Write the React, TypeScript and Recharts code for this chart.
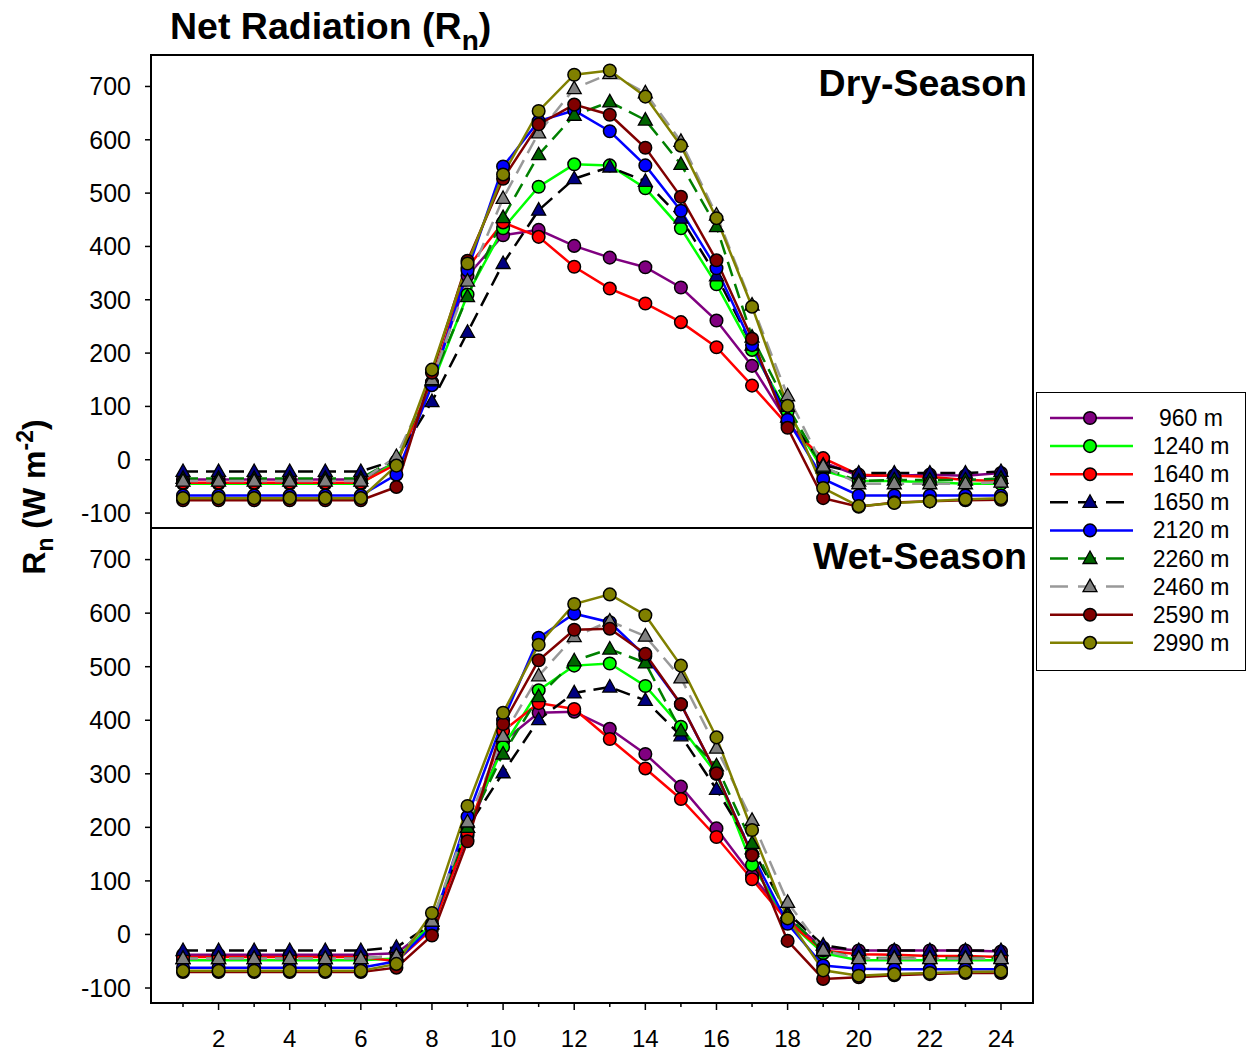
import React from "react";
import {
  LineChart,
  Line,
  XAxis,
  YAxis,
  ReferenceArea,
  Legend,
} from "recharts";

const hours = [1, 2, 3, 4, 5, 6, 7, 8, 9, 10, 11, 12, 13, 14, 15, 16, 17, 18, 19, 20, 21, 22, 23, 24];
const yTicks = [-100, 0, 100, 200, 300, 400, 500, 600, 700];
const elevations = ["960 m", "1240 m", "1640 m", "1650 m", "2120 m", "2260 m", "2460 m", "2590 m", "2990 m"];

// dry season, W m-2
const dry960 = [-37, -37, -37, -37, -37, -37, -5, 145, 345, 421, 431, 401, 379, 361, 323, 261, 176, 70, -5, -30, -30, -28, -30, -25];
const dry1240 = [-45, -45, -45, -45, -45, -45, -3, 140, 310, 434, 512, 554, 552, 509, 434, 329, 206, 90, -20, -40, -40, -42, -45, -45];
const dry1640 = [-43, -43, -43, -43, -43, -43, -8, 145, 360, 445, 418, 362, 321, 293, 258, 211, 139, 65, 3, -28, -30, -32, -38, -40];
const dry1650 = [-22, -22, -22, -22, -22, -22, 0, 109, 239, 368, 468, 527, 549, 522, 453, 345, 215, 80, -10, -25, -25, -25, -25, -22];
const dry2120 = [-67, -67, -67, -67, -67, -67, -28, 140, 355, 550, 635, 655, 616, 552, 467, 359, 215, 75, -36, -67, -67, -67, -67, -67];
const dry2260 = [-35, -35, -35, -35, -35, -35, 2, 148, 306, 454, 572, 646, 671, 637, 554, 437, 230, 100, -15, -40, -38, -38, -38, -35];
const dry2460 = [-40, -40, -40, -40, -40, -40, 6, 150, 335, 490, 613, 696, 724, 688, 597, 459, 290, 120, -12, -45, -45, -45, -45, -42];
const dry2590 = [-76, -76, -76, -76, -76, -76, -51, 163, 373, 527, 629, 666, 647, 585, 493, 374, 227, 60, -72, -88, -80, -78, -76, -75];
const dry2990 = [-72, -72, -72, -72, -72, -72, -11, 169, 368, 535, 654, 722, 730, 681, 589, 453, 287, 101, -53, -87, -81, -78, -74, -72];

// wet season, W m-2
const wet960 = [-38, -38, -38, -38, -38, -38, -35, 15, 185, 360, 414, 416, 384, 337, 276, 198, 110, 30, -25, -30, -30, -30, -30, -32];
const wet1240 = [-48, -48, -48, -48, -48, -48, -45, 20, 200, 350, 456, 502, 506, 464, 388, 300, 130, 25, -35, -48, -48, -48, -48, -48];
const wet1640 = [-42, -42, -42, -42, -42, -42, -50, 10, 190, 380, 432, 421, 365, 310, 253, 182, 103, 25, -30, -37, -38, -40, -40, -42];
const wet1650 = [-30, -30, -30, -30, -30, -30, -24, 20, 200, 302, 401, 451, 462, 437, 371, 271, 160, 40, -20, -30, -30, -30, -30, -30];
const wet2120 = [-62, -62, -62, -62, -62, -62, -50, 15, 220, 400, 554, 599, 583, 520, 430, 300, 150, 20, -58, -64, -65, -65, -65, -65];
const wet2260 = [-45, -45, -45, -45, -45, -45, -40, 25, 200, 337, 444, 511, 533, 507, 380, 315, 170, 35, -30, -44, -44, -44, -44, -44];
const wet2460 = [-45, -45, -45, -45, -45, -45, -40, 25, 210, 370, 483, 556, 585, 557, 479, 348, 213, 60, -30, -45, -45, -45, -45, -45];
const wet2590 = [-70, -70, -70, -70, -70, -70, -62, -2, 174, 393, 512, 569, 571, 524, 430, 301, 148, -12, -83, -80, -76, -74, -72, -72];
const wet2990 = [-68, -68, -68, -68, -68, -68, -55, 40, 240, 414, 541, 617, 635, 596, 502, 368, 195, 30, -67, -77, -74, -72, -70, -69];

const drySeries = [dry960, dry1240, dry1640, dry1650, dry2120, dry2260, dry2460, dry2590, dry2990];
const wetSeries = [wet960, wet1240, wet1640, wet1650, wet2120, wet2260, wet2460, wet2590, wet2990];

// look of each elevation, same order as elevations
const styles = [
  { color: "#800080", marker: "#800080", dashed: false, shape: "circle" },
  { color: "#00ff00", marker: "#00ff00", dashed: false, shape: "circle" },
  { color: "#ff0000", marker: "#ff0000", dashed: false, shape: "circle" },
  { color: "#000000", marker: "#000080", dashed: true, shape: "triangle" },
  { color: "#0000ff", marker: "#0000ff", dashed: false, shape: "circle" },
  { color: "#008000", marker: "#006400", dashed: true, shape: "triangle" },
  { color: "#999999", marker: "#808080", dashed: true, shape: "triangle" },
  { color: "#800000", marker: "#800000", dashed: false, shape: "circle" },
  { color: "#808000", marker: "#808000", dashed: false, shape: "circle" },
];

const FONT = 'Arial, "Liberation Sans", sans-serif';
const X_DOMAIN: [number, number] = [0.1, 24.9];
const Y_DOMAIN: [number, number] = [-128, 759];
const PLOT_LEFT = 151;
const PLOT_RIGHT = 1033;
const MID = 528;
const PLOT_BOTTOM = 1003;
const LEGEND_W = 210;

const buildRows = (series: number[][]) =>
  hours.map((h, i) => {
    const row: Record<string, number> = { hour: h };
    series.forEach((vals, k) => {
      row["s" + k] = vals[i];
    });
    return row;
  });

const dryData = buildRows(drySeries);
const wetData = buildRows(wetSeries);

const Marker = ({ cx, cy, shape, fill }: { cx: number; cy: number; shape: string; fill: string }) => {
  if (shape === "triangle") {
    return (
      <path
        d={`M${cx},${cy - 7.5} L${cx + 7},${cy + 5} L${cx - 7},${cy + 5} Z`}
        fill={fill}
        stroke="#000"
        strokeWidth={1.3}
      />
    );
  }
  return <circle cx={cx} cy={cy} r={6.3} fill={fill} stroke="#000" strokeWidth={1.5} />;
};

const makeDot = (k: number) => (props: any) => {
  const { cx, cy, index } = props;
  if (cx == null || cy == null) return <g key={`d${k}-${index}`} />;
  return (
    <g key={`d${k}-${index}`}>
      <Marker cx={cx} cy={cy} shape={styles[k].shape} fill={styles[k].marker} />
    </g>
  );
};

const HourTick = (props: any) => {
  const { x, payload } = props;
  const even = payload.value % 2 === 0;
  return (
    <g>
      <line x1={x} x2={x} y1={PLOT_BOTTOM} y2={PLOT_BOTTOM + (even ? 7 : 4)} stroke="#000" strokeWidth={1.5} />
      {even && (
        <text x={x} y={PLOT_BOTTOM + 44} textAnchor="middle" fontSize={24} fontFamily={FONT} fill="#000">
          {payload.value}
        </text>
      )}
    </g>
  );
};

const renderLegend = () => (
  <svg width={LEGEND_W - 3} height={275} style={{ display: "block" }}>
    {elevations.map((name, k) => {
      const y = 25 + k * 28.1;
      const s = styles[k];
      return (
        <g key={name}>
          <line
            x1={13}
            x2={s.dashed ? 88 : 96}
            y1={y}
            y2={y}
            stroke={s.color}
            strokeWidth={2.5}
            strokeDasharray={s.dashed ? "18 10" : undefined}
          />
          <Marker cx={53} cy={y} shape={s.shape} fill={s.marker} />
          <text x={154} y={y + 8} textAnchor="middle" fontSize={23} fontFamily={FONT} fill="#000">
            {name}
          </text>
        </g>
      );
    })}
  </svg>
);

const panelLabel = (text: string) => (props: any) => {
  const vb = props.viewBox;
  return (
    <text
      x={vb.x + vb.width - 6}
      y={vb.y + 41}
      textAnchor="end"
      fontSize={37.5}
      fontWeight="bold"
      fontFamily={FONT}
      fill="#000"
    >
      {text}
    </text>
  );
};

const renderLines = () =>
  elevations.map((name, k) => (
    <Line
      key={name}
      type="linear"
      dataKey={"s" + k}
      name={name}
      stroke={styles[k].color}
      strokeWidth={2.5}
      strokeDasharray={styles[k].dashed ? "15 8" : undefined}
      dot={makeDot(k)}
      activeDot={false}
      isAnimationActive={false}
    />
  ));

const yAxisProps = {
  type: "number" as const,
  domain: Y_DOMAIN,
  ticks: yTicks,
  width: PLOT_LEFT,
  allowDataOverflow: true,
  axisLine: false,
  tickSize: 6,
  tickMargin: 14,
  tickLine: { stroke: "#000", strokeWidth: 1.5 },
  tick: { fill: "#000", fontSize: 25, fontFamily: FONT },
};

export default function App() {
  return (
    <div style={{ position: "absolute", left: 0, top: 0, width: 1246, height: 1053, fontFamily: FONT, background: "#fff" }}>
      <div style={{ position: "absolute", left: 0, top: 0 }}>
        <LineChart
          width={1246}
          height={540}
          data={dryData}
          margin={{ top: 55, right: 1246 - PLOT_RIGHT - LEGEND_W, bottom: 540 - MID, left: 0 }}
        >
          <XAxis dataKey="hour" type="number" domain={X_DOMAIN} hide />
          <YAxis {...yAxisProps} />
          <ReferenceArea
            x1={X_DOMAIN[0]}
            x2={X_DOMAIN[1]}
            y1={Y_DOMAIN[0]}
            y2={Y_DOMAIN[1]}
            fill="none"
            stroke="#000"
            strokeWidth={2}
            label={{ content: panelLabel("Dry-Season") }}
          />
          {renderLines()}
          <Legend
            layout="vertical"
            align="right"
            verticalAlign="top"
            content={renderLegend}
            wrapperStyle={{
              position: "absolute",
              left: 1036,
              top: 392,
              width: LEGEND_W,
              height: 279,
              boxSizing: "border-box",
              border: "1.5px solid #000",
              background: "#fff",
            }}
          />
        </LineChart>
      </div>
      <div style={{ position: "absolute", left: 0, top: 0 }}>
        <LineChart
          width={1246}
          height={1053}
          data={wetData}
          margin={{ top: MID, right: 1246 - PLOT_RIGHT, bottom: 0, left: 0 }}
        >
          <XAxis
            dataKey="hour"
            type="number"
            domain={X_DOMAIN}
            ticks={hours}
            height={1053 - PLOT_BOTTOM}
            axisLine={false}
            tickLine={false}
            tick={<HourTick />}
            allowDataOverflow
          />
          <YAxis {...yAxisProps} />
          <ReferenceArea
            x1={X_DOMAIN[0]}
            x2={X_DOMAIN[1]}
            y1={Y_DOMAIN[0]}
            y2={Y_DOMAIN[1]}
            fill="none"
            stroke="#000"
            strokeWidth={2}
            label={{ content: panelLabel("Wet-Season") }}
          />
          {renderLines()}
        </LineChart>
      </div>
      <svg width={1246} height={1053} style={{ position: "absolute", left: 0, top: 0, pointerEvents: "none" }}>
        <text x={170} y={39} fontSize={37.5} fontWeight="bold" fontFamily={FONT} fill="#000">
          Net Radiation (R
          <tspan dy={11} fontSize={28}>n</tspan>
          <tspan dy={-11}>)</tspan>
        </text>
        <text
          transform="rotate(-90 45 497)"
          x={45}
          y={497}
          textAnchor="middle"
          fontSize={32}
          fontWeight="bold"
          fontFamily={FONT}
          fill="#000"
        >
          R
          <tspan dy={8} fontSize={23}>n</tspan>
          <tspan dy={-8}> (W m</tspan>
          <tspan dy={-12} fontSize={23}>-2</tspan>
          <tspan dy={12}>)</tspan>
        </text>
      </svg>
    </div>
  );
}
